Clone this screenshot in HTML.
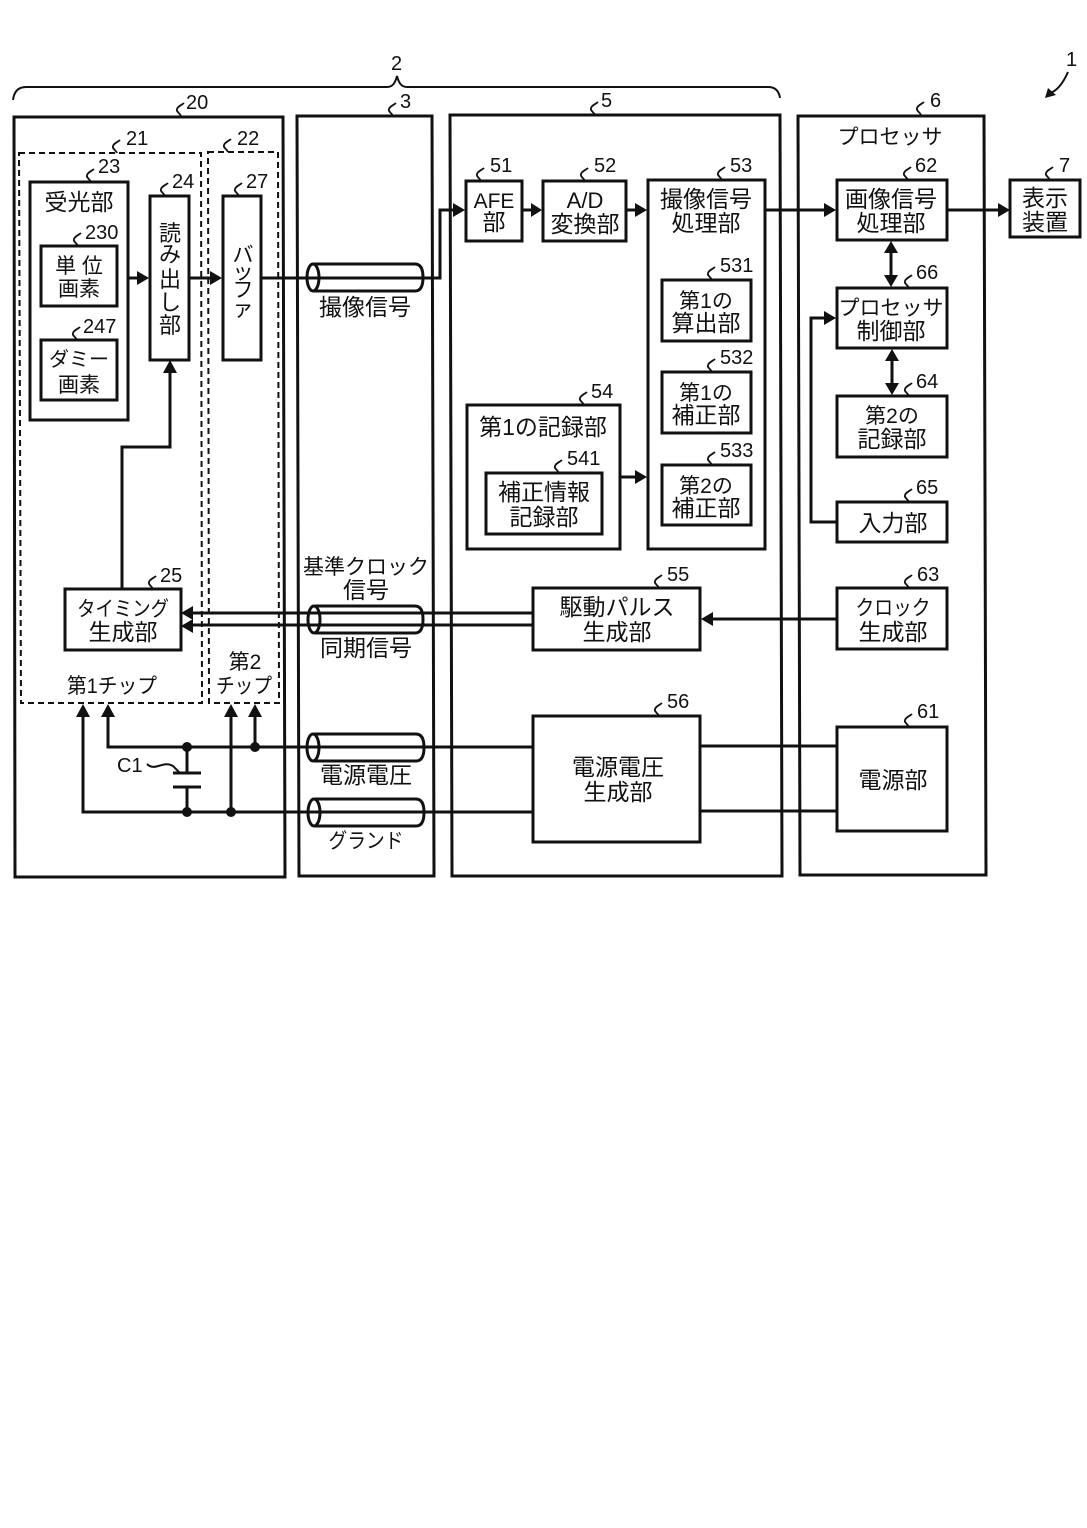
<!DOCTYPE html>
<html><head><meta charset="utf-8"><style>
html,body{margin:0;padding:0;background:#fff;width:1087px;height:1528px;overflow:hidden}
svg{display:block}
.b{fill:none;stroke:#111;stroke-width:3}
.l{fill:none;stroke:#111;stroke-width:3}
.n{fill:none;stroke:#111;stroke-width:2}
.s{fill:none;stroke:#111;stroke-width:1.800}
.d{fill:none;stroke:#111;stroke-width:2;stroke-dasharray:6 4}
.a{fill:#111;stroke:none}
.t{font-family:"Liberation Sans","Noto Sans CJK JP",sans-serif;font-size:23px;fill:#111;text-anchor:middle}
.m{font-family:"Liberation Sans",sans-serif;font-size:20px;fill:#111}
</style></head><body>
<svg width="1087" height="1528" viewBox="0 0 1087 1528" xmlns="http://www.w3.org/2000/svg">
<rect width="1087" height="1528" fill="#fff"/>
<path class="n" d="M13 100C14 92 18 87 26 87H387C392 87 395 84 397 76C399 84 402 87 407 87H768C775 87 779 91 780 98"/>
<polygon class="b" points="14,117 283,117 285,877 15,877"/>
<polygon class="b" points="297,116 432,116 434,876 299,876"/>
<polygon class="b" points="450,115 780,115 782,876 452,876"/>
<polygon class="b" points="798,116 984,116 986,875 800,875"/>
<polygon class="d" points="19,153 201,153 202,703 21,703"/>
<polygon class="d" points="208,152 278,152 279,703 209,703"/>
<g class="b">
<rect x="30" y="182" width="98" height="238"/>
<rect x="41" y="246" width="76" height="60"/>
<rect x="41" y="340" width="76" height="60"/>
<rect x="150" y="196" width="39" height="164"/>
<rect x="223" y="196" width="38" height="164"/>
<rect x="65" y="589" width="116" height="61"/>
<rect x="466" y="181" width="56" height="60"/>
<rect x="543" y="181" width="83" height="60"/>
<rect x="648" y="180" width="117" height="369"/>
<rect x="662" y="280" width="89" height="61"/>
<rect x="662" y="372" width="89" height="61"/>
<rect x="662" y="465" width="89" height="60"/>
<rect x="467" y="405" width="153" height="144"/>
<rect x="486" y="473" width="116" height="61"/>
<rect x="533" y="588" width="167" height="62"/>
<rect x="533" y="716" width="167" height="126"/>
<rect x="837" y="180" width="110" height="60"/>
<rect x="837" y="288" width="110" height="60"/>
<rect x="837" y="396" width="110" height="61"/>
<rect x="837" y="502" width="110" height="40"/>
<rect x="837" y="588" width="110" height="61"/>
<rect x="837" y="727" width="110" height="104"/>
<rect x="1010" y="180" width="70" height="57"/>
</g>
<g class="l">
<path d="M128 278H140"/>
<path d="M189 278H210"/>
<path d="M261 278H440V210H455"/>
<path d="M522 210H533"/>
<path d="M626 210H637"/>
<path d="M765 210H826"/>
<path d="M947 210H1000"/>
<path d="M620 477H637"/>
<path d="M891 250V278"/>
<path d="M892 358V386"/>
<path d="M837 522H811V318H825"/>
<path d="M837 619H712"/>
<path d="M533 613H192"/>
<path d="M533 625H192"/>
<path d="M122 589V447H170V372"/>
<path d="M108 716V747H533"/>
<path d="M83 716V812H533"/>
<path d="M231 716V812"/>
<path d="M255 716V747"/>
<path d="M187 747V773M187 787V812"/>
<path d="M700 746H837"/>
<path d="M700 811H837"/>
<path d="M173 773H201M173 787H201"/>
</g>
<g class="a">
<polygon points="149,278 137,271 137,285"/>
<polygon points="222,278 210,271 210,285"/>
<polygon points="465,210 453,203 453,217"/>
<polygon points="542,210 531,203 531,217"/>
<polygon points="647,210 635,203 635,217"/>
<polygon points="836,210 824,203 824,217"/>
<polygon points="1010,210 998,203 998,217"/>
<polygon points="647,477 635,470 635,484"/>
<polygon points="891,241 884,253 898,253"/>
<polygon points="891,287 884,275 898,275"/>
<polygon points="892,349 885,361 899,361"/>
<polygon points="892,395 885,383 899,383"/>
<polygon points="836,318 824,311 824,325"/>
<polygon points="701,619 713,612 713,626"/>
<polygon points="181,613 193,606 193,620"/>
<polygon points="181,626 193,619 193,633"/>
<polygon points="170,360 163,373 177,373"/>
<polygon points="83,704 76,717 90,717"/>
<polygon points="108,704 101,717 115,717"/>
<polygon points="231,704 224,717 238,717"/>
<polygon points="255,704 248,717 262,717"/>
<polygon points="1045,98 1056,95 1048,88"/>
<circle cx="187" cy="747" r="5"/><circle cx="255" cy="747" r="5"/>
<circle cx="187" cy="812" r="5"/><circle cx="231" cy="812" r="5"/>
</g>
<path class="n" d="M1050 93Q1060 90 1068 72"/>
<g class="l">
<path d="M313 264H415Q423 264 423 277.500Q423 291 415 291H313"/>
<ellipse cx="313" cy="277.500" rx="6" ry="13.500"/>
<path d="M315 606H415Q423 606 423 619.500Q423 633 415 633H315"/>
<ellipse cx="314" cy="619.500" rx="6" ry="13.500"/>
<path d="M314 734H416Q424 734 424 747.500Q424 761 416 761H314"/>
<ellipse cx="313" cy="747.500" rx="6" ry="13.500"/>
<path d="M315 799H416Q424 799 424 812.500Q424 826 416 826H315"/>
<ellipse cx="314" cy="812.500" rx="6" ry="13.500"/>
</g>
<path class="n" d="M147 764C155 772 163 760 173 766L180 773"/>
<g class="s">
<path d="M181 116c-1-3-5-4-4-7c1-3 5-4 7-6"/>
<path d="M393 116c-1-3-5-4-4-7c1-3 5-4 7-6"/>
<path d="M595 115c-1-3-5-4-4-7c1-3 5-4 7-6"/>
<path d="M921 115c-1-3-5-4-4-7c1-3 5-4 7-6"/>
<path d="M117 153c-1-3-5-4-4-7c1-3 5-4 7-6"/>
<path d="M228 152c-1-3-5-4-4-7c1-3 5-4 7-6"/>
<path d="M91 182c-1-3-5-4-4-7c1-3 5-4 7-6"/>
<path d="M165 196c-1-3-5-4-4-7c1-3 5-4 7-6"/>
<path d="M239 196c-1-3-5-4-4-7c1-3 5-4 7-6"/>
<path d="M78 246c-1-3-5-4-4-7c1-3 5-4 7-6"/>
<path d="M77 340c-1-3-5-4-4-7c1-3 5-4 7-6"/>
<path d="M153 589c-1-3-5-4-4-7c1-3 5-4 7-6"/>
<path d="M481 181c-1-3-5-4-4-7c1-3 5-4 7-6"/>
<path d="M585 181c-1-3-5-4-4-7c1-3 5-4 7-6"/>
<path d="M722 180c-1-3-5-4-4-7c1-3 5-4 7-6"/>
<path d="M712 280c-1-3-5-4-4-7c1-3 5-4 7-6"/>
<path d="M712 372c-1-3-5-4-4-7c1-3 5-4 7-6"/>
<path d="M712 465c-1-3-5-4-4-7c1-3 5-4 7-6"/>
<path d="M584 405c-1-3-5-4-4-7c1-3 5-4 7-6"/>
<path d="M559 473c-1-3-5-4-4-7c1-3 5-4 7-6"/>
<path d="M659 588c-1-3-5-4-4-7c1-3 5-4 7-6"/>
<path d="M659 716c-1-3-5-4-4-7c1-3 5-4 7-6"/>
<path d="M908 180c-1-3-5-4-4-7c1-3 5-4 7-6"/>
<path d="M909 288c-1-3-5-4-4-7c1-3 5-4 7-6"/>
<path d="M909 396c-1-3-5-4-4-7c1-3 5-4 7-6"/>
<path d="M909 502c-1-3-5-4-4-7c1-3 5-4 7-6"/>
<path d="M909 588c-1-3-5-4-4-7c1-3 5-4 7-6"/>
<path d="M909 727c-1-3-5-4-4-7c1-3 5-4 7-6"/>
<path d="M1050 180c-1-3-5-4-4-7c1-3 5-4 7-6"/>
</g>
<g class="m">
<text x="1066" y="66">1</text><text x="391" y="70">2</text><text x="400" y="108">3</text>
<text x="186" y="109">20</text><text x="126" y="145">21</text><text x="237" y="145">22</text>
<text x="98" y="173">23</text><text x="172" y="188">24</text><text x="246" y="188">27</text>
<text x="85" y="239">230</text><text x="83" y="333">247</text><text x="160" y="582">25</text>
<text x="601" y="107">5</text><text x="930" y="107">6</text>
<text x="490" y="172">51</text><text x="594" y="172">52</text><text x="730" y="172">53</text>
<text x="667" y="708">56</text><text x="667" y="581">55</text>
<text x="720" y="272">531</text><text x="720" y="364">532</text><text x="720" y="457">533</text>
<text x="591" y="398">54</text><text x="567" y="465">541</text>
<text x="915" y="172">62</text>
<text x="916" y="279">66</text>
<text x="916" y="388">64</text>
<text x="916" y="494">65</text>
<text x="917" y="581">63</text>
<text x="917" y="718">61</text>
<text x="1059" y="172">7</text>
<text x="117" y="772">C1</text>
</g>
<g class="t">
<text x="79" y="210">受光部</text>
<text x="79" y="273" font-size="21">単 位</text><text x="79" y="296" font-size="21">画素</text>
<text x="79" y="366" font-size="20">ダミー</text><text x="79" y="392" font-size="21">画素</text>
<g font-size="22"><text x="170" y="241">読</text><text x="170" y="262">み</text><text x="170" y="287">出</text><text x="170" y="310">し</text><text x="170" y="333">部</text></g>
<g font-size="21"><text x="243" y="262">バ</text><text x="243" y="279">ッ</text><text x="243" y="297">フ</text><text x="243" y="316">ァ</text></g>
<text x="365" y="315">撮像信号</text>
<text x="366" y="574" font-size="21">基準クロック</text><text x="366" y="598">信号</text>
<text x="366" y="656">同期信号</text>
<text x="366" y="783">電源電圧</text>
<text x="366" y="848" textLength="75" lengthAdjust="spacingAndGlyphs" font-size="21">グランド</text>
<text x="123" y="616" textLength="92" lengthAdjust="spacingAndGlyphs" font-size="21">タイミング</text><text x="123" y="640">生成部</text>
<text x="112" y="693" textLength="90" lengthAdjust="spacingAndGlyphs" font-size="21">第1チップ</text>
<text x="245" y="669" font-size="21">第2</text><text x="244" y="693" textLength="56" lengthAdjust="spacingAndGlyphs" font-size="21">チップ</text>
<text x="494" y="208" font-size="21">AFE</text><text x="494" y="230">部</text>
<text x="585" y="208" font-size="22">A/D</text><text x="585" y="232">変換部</text>
<text x="706" y="207">撮像信号</text><text x="706" y="231">処理部</text>
<text x="706" y="308" font-size="21">第1の</text><text x="706" y="331">算出部</text>
<text x="706" y="400" font-size="21">第1の</text><text x="706" y="423">補正部</text>
<text x="706" y="493" font-size="21">第2の</text><text x="706" y="516">補正部</text>
<text x="543" y="435">第1の記録部</text>
<text x="544" y="500">補正情報</text><text x="544" y="525">記録部</text>
<text x="617" y="615">駆動パルス</text><text x="617" y="640">生成部</text>
<text x="618" y="775">電源電圧</text><text x="618" y="800">生成部</text>
<text x="890" y="144" font-size="21">プロセッサ</text>
<text x="891" y="207">画像信号</text><text x="891" y="231">処理部</text>
<text x="891" y="315" font-size="21">プロセッサ</text><text x="891" y="339">制御部</text>
<text x="892" y="423" font-size="21">第2の</text><text x="892" y="447">記録部</text>
<text x="893" y="531">入力部</text>
<text x="893" y="615" textLength="75" lengthAdjust="spacingAndGlyphs" font-size="21">クロック</text><text x="893" y="640">生成部</text>
<text x="893" y="788">電源部</text>
<text x="1045" y="206">表示</text><text x="1045" y="230">装置</text>
</g>
</svg>
</body></html>
